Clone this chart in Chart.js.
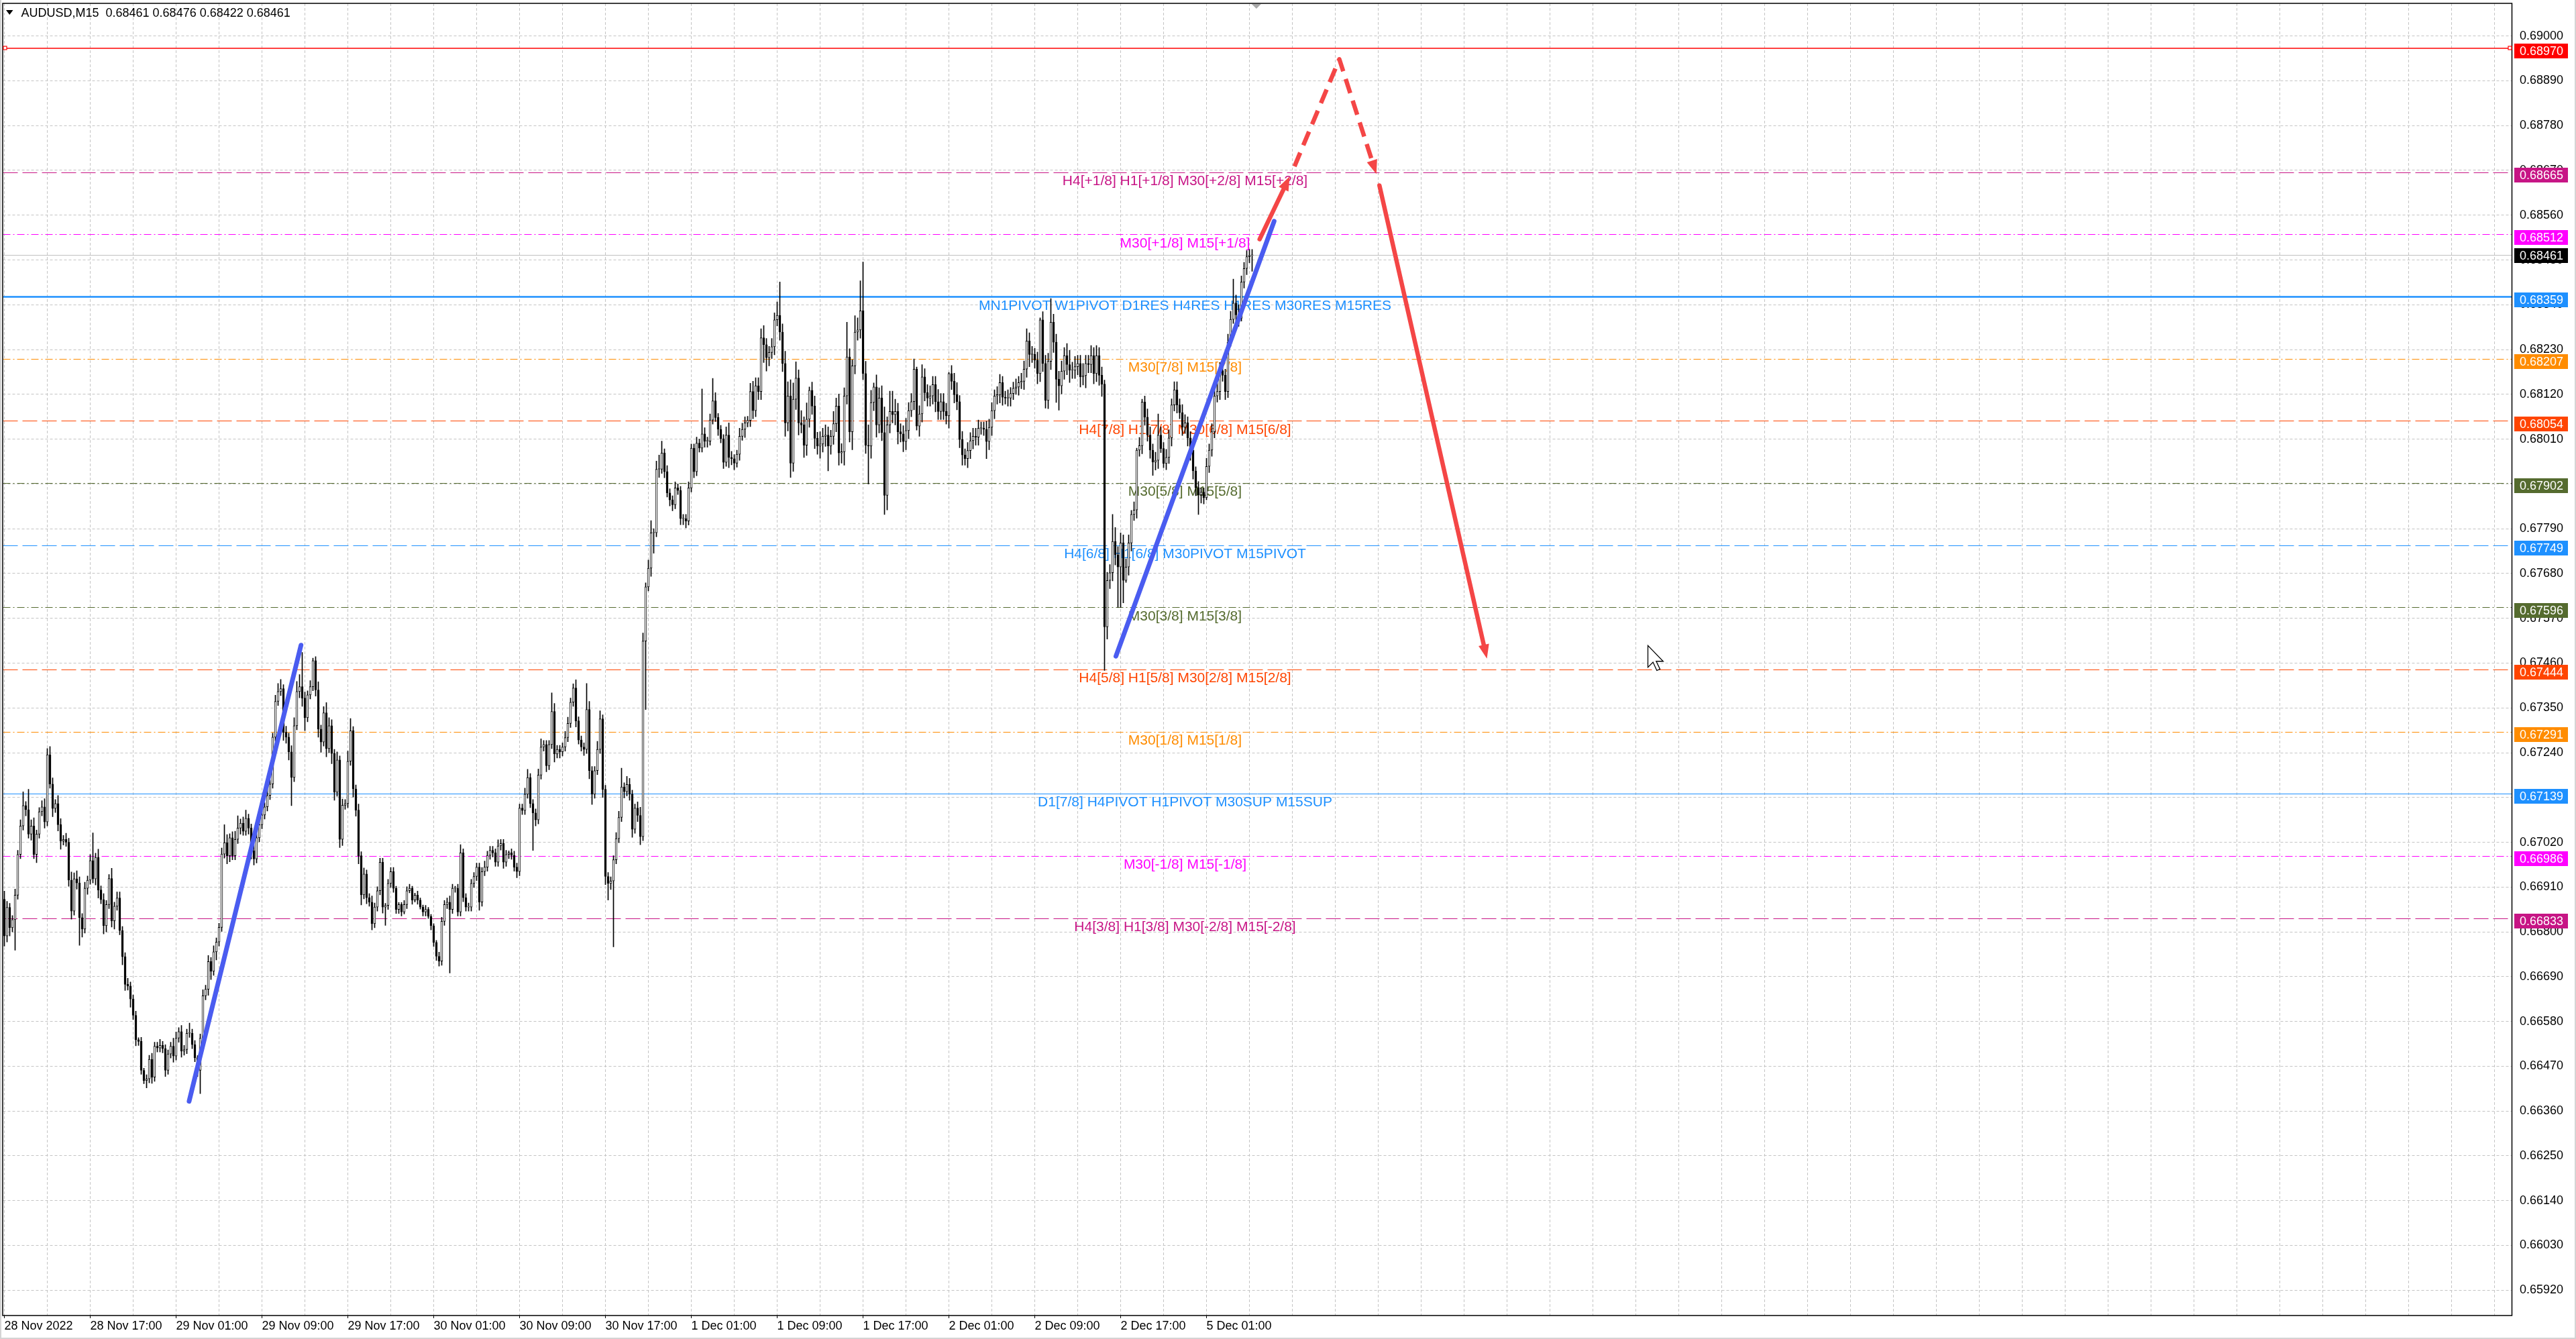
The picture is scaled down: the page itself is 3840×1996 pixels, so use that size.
<!DOCTYPE html>
<html><head><meta charset="utf-8">
<script src="https://cdn.jsdelivr.net/npm/chart.js@4.4.1/dist/chart.umd.min.js"></script>
<style>html,body{margin:0;padding:0;background:#fff;overflow:hidden}canvas{display:block}</style>
</head><body>
<canvas id="c" width="3840" height="1996"></canvas>
<script>
// ---------------- DATA ----------------
const symbol = 'AUDUSD';
const timeframe = 'M15';
const firstOpenPips = 6688;
const closePips = [
6679,6686,6681,6683,6689,6699,6706,6711,6710,6704,
6706,6699,6704,6709.5,6710.7,6707,6723.5,6716.3,6710.3,6711.5,
6706.3,6702.3,6702.7,6702,6692.7,6685.1,6693,6692,6683.5,6680.7,
6690.7,6692.7,6697.5,6693,6698.3,6690.3,6687.9,6681.5,6686.7,6693.1,
6682.7,6686.3,6688.3,6680.3,6673.9,6667.1,6666.7,6663.5,6659.5,6653.5,
6653.1,6646,6643.5,6643.9,6648.7,6644.3,6651.9,6651.5,6652.1,6651.3,
6646,6650,6651.9,6649.5,6653.9,6655.5,6650.7,6651.1,6655.1,6655.1,
6652.3,6649.1,6646,6653.9,6664.3,6665.9,6672.7,6670.3,6675.1,6677.5,
6681.1,6699.1,6701.9,6698.7,6703.1,6698.7,6702.7,6705.5,6706.7,6704.7,
6707.9,6705.5,6699.9,6697.9,6703.1,6706.3,6708.7,6710.7,6713.5,6716.3,
6727.8,6736.6,6739,6739.7,6729,6727.8,6724.2,6717.9,6730.6,6739,
6740.2,6737.4,6732.6,6738.2,6740.2,6746.6,6739.4,6729.8,6726.6,6733.8,
6725,6730.6,6723.8,6714.3,6722.2,6702.7,6711.1,6711.5,6721.9,6729.4,
6715.1,6709.9,6698.7,6689.1,6694.2,6688.4,6687.3,6682,6686.1,6690.1,
6697.1,6686.1,6686.5,6691.9,6694.8,6690.7,6685.5,6686.7,6684.9,6686.7,
6690.1,6690.7,6687.8,6689,6687.8,6686.1,6684.9,6685.5,6683.8,6681.5,
6677.4,6674,6672.8,6682.6,6686.7,6687.3,6685.5,6690.7,6690.7,6684.9,
6699.4,6688.4,6686.1,6686.1,6691.9,6693.6,6695.9,6687.3,6694.8,6695.9,
6698.8,6700,6699.4,6697.1,6701.1,6701.7,6697.1,6699,6699.4,6698.8,
6695.9,6694.8,6710.4,6709.8,6713.8,6717.9,6711.5,6709.2,6707.5,6718.5,
6725.4,6726,6720.8,6726,6734.1,6723.7,6724.8,6724.2,6725.4,6727.7,
6731.2,6736.4,6739.9,6731.8,6727.1,6725.4,6724.8,6734.6,6719.6,6713.8,
6719.6,6724.8,6732.3,6715,6693.6,6691.9,6692.5,6697.7,6702.9,6708.1,
6715.6,6714.4,6716.2,6713.8,6705.2,6710.4,6708.6,6703.4,6751.4,6764.7,
6769.3,6778,6778,6793.6,6793.6,6797.6,6793,6787.8,6786.1,6784.9,
6789,6788.4,6781.5,6781.5,6780.9,6789,6798.8,6793,6800,6798.8,
6802.3,6800.5,6800.5,6805.7,6810.4,6806.3,6803.4,6801.1,6795.3,6802,
6796.5,6796.2,6795.1,6797.3,6801.7,6803.4,6805,6805.6,6812.7,6808,
6814.1,6812.7,6825.9,6824.2,6821,6822.3,6823.7,6830.3,6831.4,6827.3,
6819.6,6805,6811.6,6795.1,6810.8,6816,6805,6804.5,6799.5,6805.9,
6813,6809.1,6801.2,6799.3,6799.8,6801.7,6802,6799.3,6801.7,6804.8,
6809.1,6797.6,6797.9,6811.6,6821.2,6802.8,6819,6827.3,6827.8,6832.5,
6817.1,6799.5,6799.3,6810,6813.8,6804.5,6811.1,6802.6,6787.2,6804.5,
6807.8,6807,6807.8,6802.8,6802.3,6800.4,6803.1,6808,6810.2,6818.2,
6804.2,6807.2,6816.3,6812.4,6811.1,6811.6,6814.4,6810.2,6807.8,6810.2,
6807.8,6806.7,6817.1,6815.2,6811.9,6810.2,6800.9,6797.1,6796.2,6798.2,
6800.6,6801.7,6801.5,6803.7,6803.7,6803.4,6800.4,6803.9,6808,6811.6,
6811.9,6814.9,6811.3,6811.1,6811.1,6812.2,6813.5,6813.8,6814.9,6815.2,
6818.2,6825.1,6821.8,6821.8,6820.4,6817.1,6830.3,6819.6,6810.5,6820.1,
6829.7,6824.8,6815.7,6814.1,6817.7,6821.5,6819.3,6817.9,6817.9,6818.8,
6819.6,6816.3,6816.6,6819.6,6819.3,6821.5,6817.1,6821.5,6816.7,6814.5,
6754.9,6766.3,6768.2,6775.9,6772.6,6769.6,6775.5,6766.3,6769.6,6775.5,
6782.5,6783.6,6798.3,6799.4,6810.1,6806.4,6802,6798.3,6795.4,6795.8,
6802,6798.7,6795,6796.5,6801.3,6809.4,6813.1,6809.4,6807.5,6803.9,
6805,6801.3,6798.3,6793.2,6789.1,6787.3,6788,6786.6,6794.3,6798.3,
6802.8,6811.6,6812.7,6817.8,6816.7,6812.7,6824.8,6830.4,6834.4,6831.5,
6830.7,6839.6,6842.9,6845.8,6846.1,6846.1
];
const upperWickPips = [
2,1.5,1,1,1.5,1,1.5,3.4,1,5,
1.5,2,1,1,1.5,2,1.5,2,1.5,1,
2,1.5,1,1.5,1,2,1.5,2,1.5,1,
1.5,1,1.5,6.8,1,2,1,1.5,1,1,
2.5,1,1.5,1.5,1,1,1.5,1,1,1,
0.5,1,0.5,1,1,1.5,1,1,1.5,1,
1,1,1,2,1.5,1,1.5,1,1,2.5,
1,1,0.5,1,1.5,1,1.5,1,1.5,1,
1,1.5,4.4,2,1,1.5,2,3,1,1.5,
2,1,1,1.5,1,1.5,1,1,1.5,1,
1,1.5,2,2.3,1,1.5,1,1.5,2,2.5,
3,8.4,1.5,1,1.5,0.6,1,2,1,1.5,
2.5,2,1.5,1,2,1,1.5,1,2.5,3,
1,1,1.5,1,1.5,1,1,1.5,1,1,
1,1,0.5,1,1,1,0.5,0.5,0.5,1,
1,1,0.5,0.5,1,0.5,0.5,1,0.5,0.5,
0.5,0.5,1,1,1,1,1.5,1,0.5,1,
2,1,1,1,1,1,1,1,1,1.5,
1,1,1,1,1.5,1,1,1,0.5,1,
1,1,1,1,1.5,2,1,1,1,1.5,
2,1,1,1,4.6,2,1,1,1,1.5,
1.5,1,1,2,1,1,1,6.4,2,1,
1,2,2,1,1,1,1,1,1.5,1.5,
4.6,1,2,1.5,1,1,1.5,2,2,1,
2,3,1,2,3.5,2.9,1,1.5,1,1,
1.5,1,1,1,1,1.5,1,1,1.5,1,
11,1.5,1,1.5,5.5,2,1,1,1,2,
3,1.5,1,1,2,1.5,1.5,1,2,2.5,
2,2,2.2,3,1.5,1.5,2,1.7,3.3,8.2,
2,3,3.5,4,4,4,2,3,2,4,
0.8,2,2.5,1.5,3,2,2.5,2,1.5,3,
2,3,2,2,8.5,2,1.5,4,3,7.4,
12,3,5,3,1,3,2.5,3,6.3,2,
5,5,3,2,2,2,3,2,2,2.5,
0.5,2,3,2,2,2.5,2,2,3,2,
2,2,0.3,2,2,3,1.5,2,1.5,2,
2,2,2,2,1.5,1.5,2,2,2,1.5,
2,2,1.5,1.5,2,1.5,1.5,2,1.5,2,
2,3,2,2,1.5,2,0.5,2,2,2,
5.8,2,2,2,2.5,2,3,3.5,2,2.5,
2,2,3,2,2,2.5,2,2.5,2,2,
1,2,2,6.6,3.4,2,2.5,2,2,2,
1,2,0.5,2,0.7,1.5,2,2,1.5,2,
5.2,2,1.5,2,2,1.5,2,2,1.5,2,
2,1.5,1.5,1,1,1.5,1,1,2,1.5,
2,1.5,2,2,2,1.5,2,2,5.9,2,
2.5,1.5,1.5,1.5,1.5,1.5
];
const lowerWickPips = [
2.5,1.5,2,1,7.5,1,1,1,1.5,1,
1.5,1,2,1,1,1.5,1,1,2,1,
1.5,2,1,1,1.5,2,1,1.5,6.8,2,
1,1.5,1,1,1.5,2,1,2,1.5,1,
1.5,2,1,1,2,1.5,1,2,1,1.5,
1,1,0.8,1.8,1,1.5,1,1,1,1,
1.5,1,1,1.5,1,1,1.5,1,1,1,
1,1,1.5,5.7,1,1,1.5,2,1,2,
1,1,1,2,1.5,1,1,1,1.5,1,
1,1.5,2,1.5,1,1,1,1,1,1,
1,1,1,1,2,1.5,2,6.9,1,1,
1.5,2,3.2,1,1,1,1.5,2,2.5,1,
2,1,2.5,2,1,2,1.5,1,1,1,
2,1.5,2,2.5,1,1.5,1,1.5,1,1,
1,1.5,4.5,1,1,1,1,1,1,0.5,
1,0.5,1,0.5,1,0.5,1,1,0.5,1,
1,1,1.2,1,1,1,15.6,1,1,1,
1,1,1,1,1,1,1,2,1,1,
1,1,1,1,1,1,1.5,1,1,1,
1,1.5,1,1,1,1,1,9.2,1.5,1,
1,1,1.5,1,1,2,1,1.5,1,1,
1,1,1,1.5,1,1,1.5,1,2,2.5,
1,1,1,2,2,4.1,1.5,16.2,1,1,
1,1.5,1,1.5,2,1,1.5,2,1,16.8,
1,2,5,1,2,1,1.5,1,1.5,1.5,
1,1,1.5,1.5,1.7,1,1,1.5,1,1,
1,1.5,1.5,1,1,1,1.5,1,1.5,1,
2.5,1.5,1.6,1,1.5,1,2,1,1.5,2,
1.5,2,2,4.4,3.3,2,1.5,2,1.5,2,
2,3.3,2,3.5,2,2.5,3,2,3,2.5,
2,2,2.5,2,3,2,2.5,6.1,2,2,
2,3,2.5,3.3,2,2.5,4.4,2,2,2,
1.5,2,9.3,3,2,3,2,2,4.7,3.6,
2,2,2.5,3,2,2.5,2,2,1.5,2,
1,2.5,2,2,2,2,2,2.5,2,2,
2,2,3,2,2,2,2,2.5,1.6,2.2,
2,2,2,2,1.5,1.5,4.2,2,2,2,
2,2,2,1.5,2,2,1.5,1.5,2,1.5,
2,2,3,2,2,2.5,2,2,1.9,2,
2,2.5,5.7,6,2,2,2.5,3,2,2,
2,2.5,2,3,2,2,2.5,2,2.5,3,
10.7,3,2,2,2.5,9.9,9.9,5.5,0.5,2,
2,1.5,2,1.5,2,2,1.5,2,3.3,2,
2,1,1,1.5,1.5,2,1.5,2,1.5,2,
1.5,2,2.5,2,2,4.8,2,1.5,0.5,1.5,
1.5,1.5,1.5,2,1.5,2,1.5,1,1,1.5,
2,0.7,1.5,1.5,1.5,3.9
];
const xTickLabels = ['28 Nov 2022','28 Nov 17:00','29 Nov 01:00','29 Nov 09:00','29 Nov 17:00','30 Nov 01:00','30 Nov 09:00','30 Nov 17:00','1 Dec 01:00','1 Dec 09:00','1 Dec 17:00','2 Dec 01:00','2 Dec 09:00','2 Dec 17:00','5 Dec 01:00'];
const yTickValues = [0.69000,0.68890,0.68780,0.68670,0.68560,0.68450,0.68340,0.68230,0.68120,0.68010,0.67900,0.67790,0.67680,0.67570,0.67460,0.67350,0.67240,0.67130,0.67020,0.66910,0.66800,0.66690,0.66580,0.66470,0.66360,0.66250,0.66140,0.66030,0.65920];
const levelPrices = [0.68970,0.68665,0.68512,0.68359,0.68207,0.68054,0.67902,0.67749,0.67596,0.67444,0.67291,0.67139,0.66986,0.66833];
const levelTexts = ['',
 'H4[+1/8] H1[+1/8] M30[+2/8] M15[+2/8]',
 'M30[+1/8] M15[+1/8]',
 'MN1PIVOT W1PIVOT D1RES H4RES H1RES M30RES M15RES',
 'M30[7/8] M15[7/8]',
 'H4[7/8] H1[7/8] M30[6/8] M15[6/8]',
 'M30[5/8] M15[5/8]',
 'H4[6/8] H1[6/8] M30PIVOT M15PIVOT',
 'M30[3/8] M15[3/8]',
 'H4[5/8] H1[5/8] M30[2/8] M15[2/8]',
 'M30[1/8] M15[1/8]',
 'D1[7/8] H4PIVOT H1PIVOT M30SUP M15SUP',
 'M30[-1/8] M15[-1/8]',
 'H4[3/8] H1[3/8] M30[-2/8] M15[-2/8]'];
// drawn objects (bar index, price)
const blueTrendBars = [[68.85, 110.55], [414.25, 473.2]];
const blueTrendPrices = [[0.66384, 0.67504], [0.67477, 0.68545]];
const redUpBars = [467.8, 479.0];
const redUpPrices = [0.68501, 0.68655];
const redDashBars = [480.8, 497.5, 511.3];
const redDashPrices = [0.68680, 0.68943, 0.68661];
const redDownBars = [512.45, 552.5];
const redDownPrices = [0.68633, 0.67471];
const cursorBar = 612.5, cursorPrice = 0.67503;

// ---------------- STYLE / LAYOUT ----------------
const FONT = '"Liberation Sans", Arial, sans-serif';
const levelColors = ['#FF0000','#C71585','#FF00FF','#1E90FF','#FF8C00','#FF4500','#556B2F','#1E90FF','#556B2F','#FF4500','#FF8C00','#1E90FF','#FF00FF','#C71585'];
const levelDash = ['solid','dash','dashdot','solid','dashdot','dash','dashdot','dash','dashdot','dash','dashdot','solid','dashdot','dash'];
const levelWidths = [1.5,1,1,2.5,1,1,1,1,1,1,1,1,1,1];
const DASH = {solid: [], dash: [22, 7], dashdot: [11, 4, 2, 4]};
const levelLabelBar = 440;
const totalSlots = 935;
const barsPerLabel = 32, barsPerGrid = 16;
const yMax = 0.690802, yMin = 0.658578;
const BLUE = '#4A5CF0', RED = '#F44646';

// ---------------- BUILD ----------------
const P = v => v / 10000;
const opens = closePips.map((c, i) => i === 0 ? firstOpenPips : closePips[i - 1]);
const bodies = closePips.map((c, i) => [P(opens[i]), P(c)]);
const wicks = closePips.map((c, i) => [P(Math.min(opens[i], c) - lowerWickPips[i]), P(Math.max(opens[i], c) + upperWickPips[i])]);
const labels = Array.from({length: totalSlots}, (_, i) => String(i));

function crisp(v, w) { return (Math.round(w) % 2 === 1) ? Math.floor(v) + 0.5 : Math.round(v); }
function arrowHead(ctx, x1, y1, x2, y2, len, half) {
  const a = Math.atan2(y2 - y1, x2 - x1), c = Math.cos(a), s = Math.sin(a);
  ctx.beginPath();
  ctx.moveTo(x2, y2);
  ctx.lineTo(x2 - len * c + half * s, y2 - len * s - half * c);
  ctx.lineTo(x2 - len * c - half * s, y2 - len * s + half * c);
  ctx.closePath(); ctx.fill();
}
function polyline(ctx, pts, color, width, dash, head) {
  ctx.save();
  ctx.strokeStyle = color; ctx.fillStyle = color; ctx.lineWidth = width;
  ctx.lineCap = dash.length ? 'butt' : 'round'; ctx.lineJoin = 'round';
  ctx.setLineDash(dash);
  const n = pts.length;
  let end = pts[n - 1];
  if (head) {
    const [ax, ay] = pts[n - 2], [bx, by] = pts[n - 1];
    const d = Math.hypot(bx - ax, by - ay), k = (d - head[0] * 0.7) / d;
    end = [ax + (bx - ax) * k, ay + (by - ay) * k];
  }
  ctx.beginPath();
  ctx.moveTo(pts[0][0], pts[0][1]);
  for (let i = 1; i < n - 1; i++) ctx.lineTo(pts[i][0], pts[i][1]);
  ctx.lineTo(end[0], end[1]);
  ctx.stroke();
  ctx.setLineDash([]);
  if (head) arrowHead(ctx, pts[n - 2][0], pts[n - 2][1], pts[n - 1][0], pts[n - 1][1], head[0], head[1]);
  ctx.restore();
}

const overlay = {
  id: 'overlay',
  beforeDatasetsDraw(chart) {
    const {ctx, chartArea: a, scales: {x, y}} = chart;
    ctx.save();
    ctx.beginPath(); ctx.rect(a.left, a.top, a.right - a.left, a.bottom - a.top); ctx.clip();
    const cp = P(closePips[closePips.length - 1]);
    let yy = crisp(y.getPixelForValue(cp), 1);
    ctx.strokeStyle = '#C0C0C0'; ctx.lineWidth = 1; ctx.setLineDash([]);
    ctx.beginPath(); ctx.moveTo(a.left, yy); ctx.lineTo(a.right, yy); ctx.stroke();
    levelPrices.forEach((p, i) => {
      const w = levelWidths[i];
      const ly = crisp(y.getPixelForValue(p), w);
      ctx.strokeStyle = levelColors[i]; ctx.lineWidth = w; ctx.setLineDash(DASH[levelDash[i]]);
      ctx.beginPath(); ctx.moveTo(a.left, ly); ctx.lineTo(a.right, ly); ctx.stroke();
    });
    ctx.setLineDash([]);
    ctx.font = '21px ' + FONT; ctx.textAlign = 'center'; ctx.textBaseline = 'alphabetic';
    const lx = x.getPixelForValue(levelLabelBar);
    levelPrices.forEach((p, i) => {
      if (!levelTexts[i]) return;
      ctx.fillStyle = levelColors[i];
      ctx.fillText(levelTexts[i], lx, y.getPixelForValue(p) + 19);
    });
    ctx.restore();
  },
  afterDatasetsDraw(chart) {
    const {ctx, chartArea: a, scales: {x, y}} = chart;
    ctx.save();
    ctx.beginPath(); ctx.rect(a.left, a.top, a.right - a.left, a.bottom - a.top); ctx.clip();
    blueTrendBars.forEach((b, i) => {
      const pts = b.map((bi, k) => [x.getPixelForValue(bi), y.getPixelForValue(blueTrendPrices[i][k])]);
      polyline(ctx, pts, BLUE, 7, [], null);
    });
    const mk = (bars, prices) => bars.map((b, k) => [x.getPixelForValue(b), y.getPixelForValue(prices[k])]);
    polyline(ctx, mk(redUpBars, redUpPrices), RED, 6.5, [], [21, 8]);
    polyline(ctx, mk(redDashBars, redDashPrices), RED, 6.5, [22, 12], [21, 8]);
    polyline(ctx, mk(redDownBars, redDownPrices), RED, 6.5, [], [21, 8]);
    ctx.restore();
  },
  afterDraw(chart) {
    const {ctx, chartArea: a, scales: {x, y}, width, height} = chart;
    ctx.save();
    ctx.strokeStyle = '#D4D4D4'; ctx.lineWidth = 2;
    ctx.beginPath(); ctx.moveTo(width - 1, 0); ctx.lineTo(width - 1, height); ctx.stroke();
    ctx.beginPath(); ctx.moveTo(0, height - 1); ctx.lineTo(width, height - 1); ctx.stroke();
    ctx.beginPath(); ctx.moveTo(1, 0); ctx.lineTo(1, height); ctx.stroke();
    ctx.strokeStyle = '#000'; ctx.lineWidth = 1.5;
    ctx.strokeRect(a.left - 0.5, a.top, a.right - a.left + 0.5, a.bottom - a.top);
    ctx.font = '18px ' + FONT; ctx.textAlign = 'left'; ctx.textBaseline = 'middle';
    levelPrices.forEach((p, i) => {
      const cy = y.getPixelForValue(p) + 4;
      ctx.fillStyle = levelColors[i];
      ctx.fillRect(a.right + 3.5, Math.round(cy - 11), 80, 22);
      ctx.fillStyle = '#fff';
      ctx.fillText(p.toFixed(5), a.right + 11.5, Math.round(cy) + 1);
    });
    const cp = P(closePips[closePips.length - 1]);
    const cpy = y.getPixelForValue(cp);
    ctx.fillStyle = '#000'; ctx.fillRect(a.right + 3.5, Math.round(cpy - 11), 80, 22);
    ctx.fillStyle = '#fff'; ctx.fillText(cp.toFixed(5), a.right + 11.5, Math.round(cpy) + 1);
    const ry = crisp(y.getPixelForValue(levelPrices[0]), 1);
    ctx.strokeStyle = '#FF0000'; ctx.lineWidth = 1.2; ctx.fillStyle = '#fff';
    [a.left + 3, a.right - 3].forEach(mx => { ctx.fillRect(mx - 2.5, ry - 2.5, 5, 5); ctx.strokeRect(mx - 2.5, ry - 2.5, 5, 5); });
    const sx = x.getPixelForValue(closePips.length + 0.6);
    ctx.fillStyle = '#A8A8A8';
    ctx.beginPath(); ctx.moveTo(sx - 7, a.top + 1); ctx.lineTo(sx + 7, a.top + 1); ctx.lineTo(sx, a.top + 8); ctx.closePath(); ctx.fill();
    const n = closePips.length - 1;
    const o = P(opens[n]), c = P(closePips[n]);
    const h = P(Math.max(opens[n], closePips[n]) + upperWickPips[n]);
    const l = P(Math.min(opens[n], closePips[n]) - lowerWickPips[n]);
    ctx.fillStyle = '#000';
    ctx.beginPath(); ctx.moveTo(9, 15); ctx.lineTo(19.5, 15); ctx.lineTo(14.25, 22); ctx.closePath(); ctx.fill();
    ctx.font = '18px ' + FONT; ctx.textAlign = 'left'; ctx.textBaseline = 'middle';
    ctx.fillText(symbol + ',' + timeframe + '  ' + [o, h, l, c].map(v => v.toFixed(5)).join(' '), 31.5, 20.5);
    const cx = x.getPixelForValue(cursorBar), cyy = y.getPixelForValue(cursorPrice), s = 1.9;
    const pts = [[0,0],[0,17],[4,13],[7,19.5],[9.5,18.5],[6.5,12.3],[12,12.3]];
    ctx.beginPath();
    pts.forEach(([px, py], k) => k ? ctx.lineTo(cx + px * s, cyy + py * s) : ctx.moveTo(cx + px * s, cyy + py * s));
    ctx.closePath();
    ctx.fillStyle = '#fff'; ctx.fill(); ctx.strokeStyle = '#000'; ctx.lineWidth = 1.3; ctx.stroke();
    ctx.restore();
  }
};

new Chart(document.getElementById('c'), {
  type: 'bar',
  data: {
    labels,
    datasets: [
      { label: 'body', data: bodies, order: 0, grouped: false, barThickness: 3, minBarLength: 1,
        borderWidth: 1, borderColor: '#000', borderSkipped: false,
        backgroundColor: ctx => (closePips[ctx.dataIndex] >= opens[ctx.dataIndex] ? '#ffffff' : '#000000') },
      { label: 'wick', data: wicks, order: 1, grouped: false, barThickness: 1, backgroundColor: '#000', borderWidth: 0 }
    ]
  },
  options: {
    responsive: false, devicePixelRatio: 1, animation: false, events: [],
    layout: { padding: { left: 4.5, top: 5, right: 0, bottom: 0 } },
    plugins: { legend: { display: false }, tooltip: { enabled: false } },
    scales: {
      x: {
        type: 'category', offset: true,
        grid: { offset: false, color: '#C4C4C4', lineWidth: 1, drawTicks: true, tickLength: 4, tickWidth: 1,
          tickColor: c => (c.tick && c.tick.value % barsPerLabel === 0 && c.tick.value / barsPerLabel < xTickLabels.length) ? '#000' : 'rgba(0,0,0,0)' },
        border: { display: false, dash: [4, 3] },
        ticks: { autoSkip: false, maxRotation: 0, minRotation: 0, align: 'start', padding: 1, color: '#000',
          font: { family: FONT, size: 18 },
          callback: v => (v % barsPerLabel === 0 && v / barsPerLabel < xTickLabels.length) ? xTickLabels[v / barsPerLabel] : '' },
        afterBuildTicks: s => { const t = []; for (let v = 0; v < totalSlots; v += barsPerGrid) t.push({ value: v }); s.ticks = t; },
        afterFit: s => { s.height = 35; s.paddingLeft = 0; s.paddingRight = 0; }
      },
      y: {
        type: 'linear', position: 'right', min: yMin, max: yMax,
        grid: { color: '#C4C4C4', lineWidth: 1, drawTicks: false },
        border: { display: false, dash: [4, 3] },
        ticks: { padding: 11.5, color: '#000', font: { family: FONT, size: 18 }, callback: v => Number(v).toFixed(5) },
        afterBuildTicks: s => { s.ticks = yTickValues.map(v => ({ value: v })); },
        afterFit: s => { s.width = 95.5; s.paddingTop = 0; s.paddingBottom = 0; }
      }
    }
  },
  plugins: [overlay]
});
</script>
</body></html>
